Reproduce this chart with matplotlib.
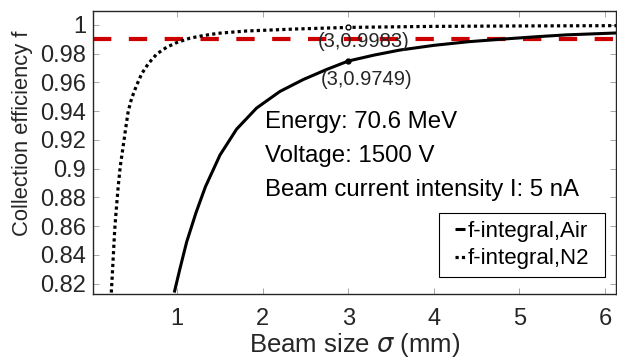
import numpy as np
import matplotlib.pyplot as plt
from matplotlib.patches import Rectangle

# =========================================================
# DADOS
# =========================================================

sigma_air = [0.965, 1.03, 1.11, 1.22, 1.33, 1.50, 1.694, 1.928, 2.20, 2.473,
             2.746, 3.00, 3.30, 3.60, 4.00, 4.40, 4.77, 5.20, 5.55, 6.13]
f_air = [0.8138, 0.830, 0.849, 0.8695, 0.8875, 0.9095, 0.9275, 0.9422, 0.9537, 0.9620,
         0.9690, 0.9749, 0.9790, 0.9825, 0.9858, 0.9883, 0.9900, 0.9918, 0.9931, 0.9944]

sigma_n2 = [0.229, 0.240, 0.2565, 0.269, 0.287, 0.310, 0.334, 0.362, 0.397, 0.427,
            0.467, 0.525, 0.584, 0.661, 0.759, 0.876, 0.993, 1.148, 1.304, 1.479,
            1.81, 2.40, 3.00, 4.00, 5.00, 6.13]
f_n2 = [0.8138, 0.8253, 0.8439, 0.8577, 0.8716, 0.8878, 0.9017, 0.9132, 0.928, 0.940,
        0.949, 0.958, 0.966, 0.973, 0.9797, 0.9845, 0.9877, 0.9908, 0.9926, 0.9942,
        0.9958, 0.9972, 0.9983, 0.9990, 0.9993, 0.9995]

f_limit = 0.99
marks_x = [3, 3]
marks_y = [0.9983, 0.9749]
mark_labels = ["(3,0.9983)", "(3,0.9749)"]

info_lines = ["Energy: 70.6 MeV", "Voltage: 1500 V", "Beam current intensity I: 5 nA"]
x_ticks = [1, 2, 3, 4, 5, 6]
y_ticks = [0.82, 0.84, 0.86, 0.88, 0.9, 0.92, 0.94, 0.96, 0.98, 1]
y_ticklabels = ["0.82", "0.84", "0.86", "0.88", "0.9", "0.92", "0.94", "0.96", "0.98", "1"]

# =========================================================
# PLOT
# =========================================================

plt.rcParams['font.family'] = ['Liberation Sans', 'DejaVu Sans']
plt.rcParams['mathtext.fontset'] = 'dejavusans'

AX_COLOR = '#262626'

fig = plt.figure(figsize=(6.17, 3.61), dpi=100)
ax = fig.add_axes([93 / 617, 1 - 294 / 361, 523 / 617, 283 / 361])

ax.axhline(f_limit, color='#cc0000', lw=3, ls=(0, (4.4, 4.2)), zorder=1)
ax.plot(sigma_air, f_air, color='black', lw=2.2, solid_capstyle='butt',
        solid_joinstyle='round', label='f-integral,Air', zorder=3)
ax.plot(sigma_n2, f_n2, color='black', lw=2.3, ls=(0, (1, 1)),
        label='f-integral,N2', zorder=3)
ax.plot(marks_x[:1], marks_y[:1], 'o', ms=3.5, mfc='white', mec='black', mew=1, zorder=4)
ax.plot(marks_x[1:], marks_y[1:], 'o', ms=3.5, color='black', zorder=4)

# etiquetas dos pontos
ax.text(3.18, 0.985, mark_labels[0], ha='center', va='baseline', fontsize=14.5, color=AX_COLOR)
ax.text(3.21, 0.9584, mark_labels[1], ha='center', va='baseline', fontsize=14.5, color=AX_COLOR)

for i, line in enumerate(info_lines):
    ax.text(2.025, 0.9283 - i * 0.0238, line, ha='left', va='baseline',
            fontsize=17.3, color='black')

ax.set_xlim(0.015, 6.13)
ax.set_ylim(0.8128, 1.0097)
ax.set_xticks(x_ticks)
ax.set_yticks(y_ticks)
ax.set_yticklabels(y_ticklabels)
ax.tick_params(direction='in', top=True, right=True, length=4, width=0.6,
               colors='#999999', labelcolor=AX_COLOR, labelsize=17)
ax.tick_params(axis='x', pad=10)
ax.tick_params(axis='y', pad=5)
for s in ax.spines.values():
    s.set_color(AX_COLOR)
    s.set_linewidth(1.0)

ax.set_xlabel(r"Beam size $\sigma$ (mm)", fontsize=18.5, color=AX_COLOR, labelpad=1)
ax.set_ylabel("Collection efficiency f", fontsize=15.8, color=AX_COLOR)
ax.yaxis.set_label_coords(-0.115, 0.569)

# caixa da legenda desenhada à mão (mais espaço nas laterais)
box = Rectangle((0.6616, 0.060), 0.3174, 0.226, transform=ax.transAxes,
                facecolor='white', edgecolor='black', lw=0.8, zorder=5)
ax.add_patch(box)
leg = ax.legend(loc='center', bbox_to_anchor=(0.6616 + 0.3174 / 2, 0.060 + 0.226 / 2),
                fontsize=16, handlelength=0.45, handletextpad=0.15, borderpad=0,
                labelspacing=0.3, frameon=False)
leg.set_zorder(6)

fig.savefig("out.png", dpi=100)
